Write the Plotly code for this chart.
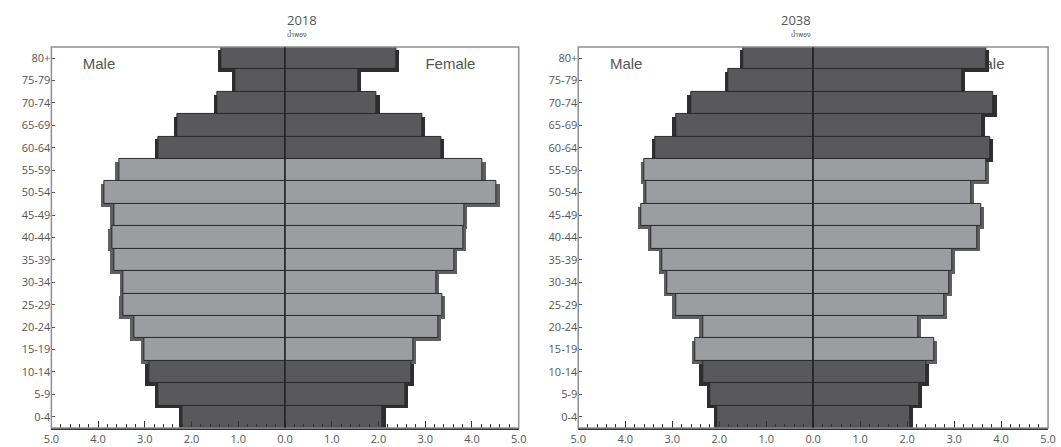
import plotly.graph_objects as go

ages = ["0-4", "5-9", "10-14", "15-19", "20-24", "25-29", "30-34", "35-39", "40-44",
        "45-49", "50-54", "55-59", "60-64", "65-69", "70-74", "75-79", "80+"]

male_2018 = [2.19, 2.70, 2.91, 3.00, 3.23, 3.47, 3.45, 3.66, 3.70, 3.66, 3.87, 3.55, 2.70, 2.30, 1.45, 1.06, 1.36]
female_2018 = [2.09, 2.57, 2.70, 2.74, 3.28, 3.36, 3.23, 3.62, 3.81, 3.83, 4.53, 4.23, 3.34, 2.94, 1.96, 1.57, 2.38]
male_2038 = [2.04, 2.18, 2.35, 2.50, 2.35, 2.92, 3.11, 3.21, 3.45, 3.66, 3.55, 3.59, 3.36, 2.92, 2.60, 1.81, 1.49]
female_2038 = [2.06, 2.25, 2.40, 2.57, 2.23, 2.79, 2.90, 2.96, 3.49, 3.57, 3.36, 3.68, 3.76, 3.60, 3.84, 3.17, 3.68]

years = ["2018", "2038"]
district = "น้ำพอง"
tick_vals = [-5, -4, -3, -2, -1, 0, 1, 2, 3, 4, 5]
tick_text = ["5.0", "4.0", "3.0", "2.0", "1.0", "0.0", "1.0", "2.0", "3.0", "4.0", "5.0"]

# shading pattern: children & elderly dark, working ages light
dark_group = [True, True, True, False, False, False, False, False, False,
              False, False, False, True, True, True, True, True]
DARK, LIGHT = "#59595b", "#9c9da0"
SH_DARK, SH_LIGHT = "#2e2e2e", "#606062"
fill_colors = [DARK if d else LIGHT for d in dark_group]
shadow_colors = [SH_DARK if d else SH_LIGHT for d in dark_group]

pos = list(range(len(ages)))
SH = 0.07  # shadow depth in data units

fig = go.Figure()

panels = [
    dict(male=male_2018, female=female_2018, base=("x", "y"), over=("x3", "y3")),
    dict(male=male_2038, female=female_2038, base=("x2", "y2"), over=("x4", "y4")),
]

text_font = dict(family="Liberation Sans, Arial, sans-serif", size=15, color="#555555")

for p in panels:
    bx, by = p["base"]
    ox, oy = p["over"]
    # legend-like labels (drawn underneath the bars)
    fig.add_trace(go.Scatter(x=[-3.98, 3.54], y=[15.67, 15.67], mode="text",
                             text=["Male", "Female"], textposition="middle center",
                             textfont=text_font, xaxis=bx, yaxis=by,
                             showlegend=False, hoverinfo="skip"))
    # shadows
    fig.add_trace(go.Bar(x=[-(v + SH) for v in p["male"]], y=pos, orientation="h",
                         width=1, offset=-0.62, marker=dict(color=shadow_colors, line=dict(width=0)),
                         xaxis=ox, yaxis=oy, showlegend=False, hoverinfo="skip"))
    fig.add_trace(go.Bar(x=[v + SH for v in p["female"]], y=pos, orientation="h",
                         width=1, offset=-0.62, marker=dict(color=shadow_colors, line=dict(width=0)),
                         xaxis=ox, yaxis=oy, showlegend=False, hoverinfo="skip"))
    # main bars
    fig.add_trace(go.Bar(x=[-v for v in p["male"]], y=pos, orientation="h",
                         width=1, offset=-0.5,
                         marker=dict(color=fill_colors, line=dict(color="#2a2a2a", width=1)),
                         xaxis=ox, yaxis=oy, showlegend=False, name="Male"))
    fig.add_trace(go.Bar(x=p["female"], y=pos, orientation="h",
                         width=1, offset=-0.5,
                         marker=dict(color=fill_colors, line=dict(color="#2a2a2a", width=1)),
                         xaxis=ox, yaxis=oy, showlegend=False, name="Female"))

tick_font = dict(family="Open Sans, sans-serif", size=11, color="#555555")
ydom = [0.0425, 0.895]
doms = [[0.0415, 0.4887], [0.5457, 0.9953]]

def xbase(dom, anchor):
    return dict(domain=dom, range=[-5, 5], anchor=anchor, tickvals=tick_vals, ticktext=tick_text,
                ticks="inside", ticklen=7, tickcolor="#333333", tickwidth=1,
                minor=dict(dtick=0.2, ticks="inside", ticklen=4, tickcolor="#333333", tickwidth=1),
                showline=True, linecolor="#333333", linewidth=1.5, showgrid=False, zeroline=False,
                tickfont=tick_font, fixedrange=True)

def ybase(anchor):
    return dict(domain=ydom, range=[-0.5, 16.5], anchor=anchor, tickvals=pos, ticktext=ages,
                ticks="inside", ticklen=4, tickcolor="#555555", showline=False, showgrid=False,
                zeroline=False, tickfont=tick_font, fixedrange=True)

def overx(base):
    return dict(overlaying=base, range=[-5, 5], visible=False, fixedrange=True)

def overy(base):
    return dict(overlaying=base, range=[-0.5, 16.5], visible=False, fixedrange=True)

fig.update_layout(
    width=1061, height=447,
    margin=dict(l=0, r=0, t=0, b=0),
    paper_bgcolor="white", plot_bgcolor="white",
    barmode="overlay", bargap=0,
    xaxis=xbase(doms[0], "y"), yaxis=ybase("x"),
    xaxis2=xbase(doms[1], "y2"), yaxis2=ybase("x2"),
    xaxis3=dict(overx("x"), anchor="y3"), yaxis3=dict(overy("y"), anchor="x3"),
    xaxis4=dict(overx("x2"), anchor="y4"), yaxis4=dict(overy("y2"), anchor="x4"),
)

shapes = []
annotations = []
for i, (xr, yr) in enumerate([("x", "y"), ("x2", "y2")]):
    # frame
    shapes.append(dict(type="rect", xref=f"{xr} domain", yref=f"{yr} domain", x0=0, x1=1, y0=0, y1=1,
                       line=dict(color="#8f8f8f", width=1.5), layer="above"))
    # centre line
    shapes.append(dict(type="line", xref=xr, yref=f"{yr} domain", x0=0, x1=0, y0=0, y1=1,
                       line=dict(color="#222222", width=1.2), layer="above"))
    cx = (doms[i][0] + doms[i][1]) / 2
    annotations.append(dict(text=years[i], xref="paper", yref="paper", x=cx, y=1 - 20 / 447,
                            yanchor="middle", showarrow=False,
                            font=dict(family="Open Sans, sans-serif", size=13, color="#555555")))
    annotations.append(dict(text=district, xref="paper", yref="paper", x=cx, y=1 - 34 / 447,
                            yanchor="middle", showarrow=False,
                            font=dict(family="Noto Sans Thai, Noto Sans, sans-serif", size=7, color="#555555")))

fig.update_layout(shapes=shapes, annotations=annotations)

fig.write_html("out.html", config={"displayModeBar": False},
               post_script="document.body.style.margin='0';document.body.style.padding='0';")
